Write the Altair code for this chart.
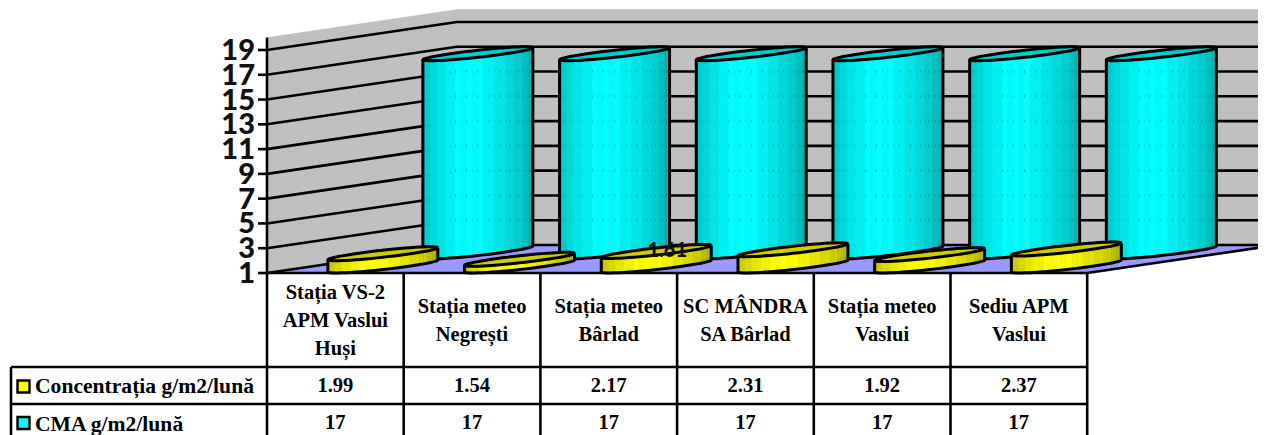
import math
import altair as alt
import pandas as pd

# ---------- data ----------
CATEGORY_LINES = [
    ["Stația VS-2", "APM Vaslui", "Huși"],
    ["Stația meteo", "Negrești"],
    ["Stația meteo", "Bârlad"],
    ["SC MÂNDRA", "SA Bârlad"],
    ["Stația meteo", "Vaslui"],
    ["Sediu APM", "Vaslui"],
]
CONCENTRATION = [1.99, 1.54, 2.17, 2.31, 1.92, 2.37]
CONCENTRATION_TEXT = ["1.99", "1.54", "2.17", "2.31", "1.92", "2.37"]
CMA = [17, 17, 17, 17, 17, 17]
SERIES_NAMES = ["Concentrația g/m2/lună", "CMA g/m2/lună"]
TICKS = [1, 3, 5, 7, 9, 11, 13, 15, 17, 19]
AXIS_TOP = 20
STRAY_LABEL = "1.61"

# ---------- oblique projection of the 3-D chart ----------
X0, Y0 = 267.0, 273.0
CAT_W = 136.7
UNIT = 12.39
DX, DY = 190.0, 28.0
RIGHT_EDGE = X0 + CAT_W * len(CONCENTRATION)
A = 27.7          # radius along the category axis
B = 0.25 * DX     # radius along the depth axis (x part)
H = 0.25 * DY     # radius along the depth axis (y part)
R = math.hypot(A, B)
T0 = math.atan2(B, A)
STRIPS = 30


def sx(cat, depth=0.0):
    return X0 + cat * CAT_W + depth * DX


def sy(v, depth=0.0):
    return Y0 - (v - 1) * UNIT - depth * DY


def shade(f):
    stops = [(0, .76), (.06, .84), (.18, .92), (.33, 1.0), (.52, 1.0), (.72, .9), (.9, .8), (1, .68)]
    for (a, va), (b, vb) in zip(stops, stops[1:]):
        if f <= b:
            return va + (vb - va) * (f - a) / (b - a)
    return stops[-1][1]


def rgb(base, k):
    return "#%02x%02x%02x" % tuple(int(round(c * k)) for c in base)


fills_bg, fills_cyan, fills_yellow = [], [], []
lines_bg, lines_cyan, lines_yellow, lines_table, seams = [], [], [], [], []


def add_fill(store, name, pts, color):
    for x, y, y2 in pts:
        store.append(dict(x=x, y=y, y2=y2, id=name, c=color))


def add_line(store, name, pts):
    for i, (x, y) in enumerate(pts):
        store.append(dict(x=x, y=y, i=i, id=name))


def cylinder(fills, lines, cat, depth, value, base, top_k, name):
    cx = sx(cat + 0.5, depth)
    by = sy(1, depth)
    ty = sy(value, depth)
    steps = [math.pi * j / STRIPS for j in range(STRIPS + 1)]
    low = lambda th: H * math.sin(T0 - th)
    up = lambda th: H * math.sin(T0 + th)
    ordered = list(reversed(steps))  # left to right on the screen
    for j in range(STRIPS):
        t0, t1 = ordered[j], ordered[j + 1]
        x0, x1 = cx + R * math.cos(t0), cx + R * math.cos(t1)
        f = ((x0 + x1) / 2 - (cx - R)) / (2 * R)
        k = shade(f) * (1 if j % 2 else 0.975)
        add_fill(fills, f"{name}s{j:02d}",
                 [(x0, ty - low(t0), by - low(t0)), (x1, ty - low(t1), by - low(t1))], rgb(base, k))
    add_fill(fills, f"{name}top",
             [(cx + R * math.cos(t), ty - up(t), ty - low(t)) for t in steps], rgb(base, top_k))
    ring = [(cx + R * math.cos(t), ty - up(t)) for t in steps] + \
           [(cx + R * math.cos(t), ty - low(t)) for t in reversed(steps)]
    add_line(lines, f"{name}ring", ring)
    add_line(lines, f"{name}side",
             [(cx - R, ty - low(math.pi)), (cx - R, by - low(math.pi))] +
             [(cx + R * math.cos(t), by - low(t)) for t in reversed(steps)] +
             [(cx + R, ty - low(0))])
    return cx


# walls and floor
far_x = sx(len(CONCENTRATION), 1)
add_fill(fills_bg, "wall_left", [(sx(0), sy(AXIS_TOP), sy(1)), (sx(0, 1), sy(AXIS_TOP, 1), sy(1, 1))], "#c0c0c0")
add_fill(fills_bg, "wall_back", [(sx(0, 1), sy(AXIS_TOP, 1), sy(1, 1)), (far_x, sy(AXIS_TOP, 1), sy(1, 1))], "#c0c0c0")
add_fill(fills_bg, "floor", [(sx(0), sy(1), sy(1)), (sx(0, 1), sy(1, 1), sy(1)),
                             (RIGHT_EDGE, sy(1, 1), sy(1)), (far_x, sy(1, 1), sy(1, 1))], "#9999ff")
for t in TICKS:
    add_line(lines_bg, f"g{t}", [(sx(0), sy(t)), (sx(0, 1), sy(t, 1)), (far_x, sy(t, 1))])
add_line(lines_bg, "floor_edge", [(RIGHT_EDGE, sy(1)), (far_x, sy(1, 1))])
add_line(lines_bg, "axis", [(sx(0), sy(AXIS_TOP)), (sx(0), sy(1))])
for t in TICKS:
    add_line(lines_bg, f"t{t}", [(sx(0) - 9, sy(t)), (sx(0), sy(t))])

for n, v in enumerate(CMA):
    cx = cylinder(fills_cyan, lines_cyan, n, 0.75, v, (0, 255, 255), 0.8, f"c{n}")
    # faint dots where the hidden gridlines meet the facet seams
    for t in TICKS[1:8]:
        for j in range(11, STRIPS, 2):
            sxp = cx + R * math.cos(math.pi * (STRIPS - j) / STRIPS)
            add_line(seams, f"d{n}_{t}_{j}", [(sxp, sy(t, 1) - 1.5), (sxp, sy(t, 1) + 1.5)])
for n, v in enumerate(CONCENTRATION):
    cylinder(fills_yellow, lines_yellow, n, 0.25, v, (255, 255, 0), 0.8, f"y{n}")

# data table
ROW_Y = [367.0, 404.0]
BOTTOM = 440.0
TABLE_LEFT = 11.0
add_line(lines_table, "top", [(sx(0), sy(1)), (RIGHT_EDGE, sy(1))])
for k, y in enumerate(ROW_Y):
    add_line(lines_table, f"r{k}", [(TABLE_LEFT, y), (RIGHT_EDGE, y)])
add_line(lines_table, "left", [(TABLE_LEFT, ROW_Y[0]), (TABLE_LEFT, BOTTOM)])
for k in range(len(CONCENTRATION) + 1):
    add_line(lines_table, f"v{k}", [(sx(k), sy(1)), (sx(k), BOTTOM)])

cat_text, val_text, name_text = [], [], []
for n, parts in enumerate(CATEGORY_LINES):
    mid = (sy(1) + ROW_Y[0]) / 2 + 0.5
    for j, s in enumerate(parts):
        cat_text.append(dict(x=sx(n + 0.5), y=mid + (j - (len(parts) - 1) / 2) * 28, t=s))
    val_text.append(dict(x=sx(n + 0.5), y=385.5, t=CONCENTRATION_TEXT[n]))
    val_text.append(dict(x=sx(n + 0.5), y=422.5, t=str(CMA[n])))
name_text = [dict(x=35, y=387, t=SERIES_NAMES[0]), dict(x=35, y=425, t=SERIES_NAMES[1])]
keys = [dict(x=17.5, x2=29.5, y=380.5, y2=392.5, c="#ffff00"), dict(x=17.5, x2=29.5, y=417, y2=429, c="#00ffff")]
tick_text = [dict(x=sx(0) - 12, y=sy(t) + 1, t=str(t)) for t in TICKS]
stray = [dict(x=sx(2.5, 0.25) + 11, y=sy(CONCENTRATION[2], 0.25) - 0.5, t=STRAY_LABEL)]

# ---------- chart ----------
XS = alt.X("x:Q", axis=None, scale=alt.Scale(domain=[8, 1258], nice=False, zero=False))
YS = alt.Y("y:Q", axis=None, scale=alt.Scale(domain=[435, 8], nice=False, zero=False))


def area_layer(rows):
    return alt.Chart(pd.DataFrame(rows)).mark_area(clip=True, strokeWidth=0.5, interpolate="linear").encode(
        x=XS, y=YS, y2="y2:Q", detail="id:N",
        color=alt.Color("c:N", scale=None), stroke=alt.Stroke("c:N", scale=None))


def line_layer(rows, width=2.6, color="black", opacity=1.0):
    return alt.Chart(pd.DataFrame(rows)).mark_line(
        clip=True, color=color, opacity=opacity, strokeWidth=width, strokeJoin="round"
    ).encode(x=XS, y=YS, detail="id:N", order="i:Q")


def text_layer(rows, font, size, align="center", color="black", weight=700):
    return alt.Chart(pd.DataFrame(rows)).mark_text(
        font=font, fontWeight=weight, fontSize=size, align=align, baseline="middle", color=color, clip=True
    ).encode(x=XS, y=YS, text="t:N")


key_layer = alt.Chart(pd.DataFrame(keys)).mark_rect(stroke="black", strokeWidth=2.4).encode(
    x=XS, x2="x2:Q", y=YS, y2="y2:Q", color=alt.Color("c:N", scale=None))

serif = "Liberation Serif"
chart = alt.layer(
    area_layer(fills_bg),
    line_layer(lines_bg),
    area_layer(fills_cyan),
    line_layer(seams, 1, "#008f8f", 0.45),
    line_layer(lines_cyan, 3),
    area_layer(fills_yellow),
    line_layer(lines_yellow, 3),
    text_layer(stray, "Lato", 20, color="#111111", weight=900),
    line_layer(lines_table),
    key_layer,
    text_layer(tick_text, "Lato", 29, align="right", color="#111111", weight=900),
    text_layer(cat_text, serif, 20.5),
    text_layer(val_text, serif, 20.5),
    text_layer(name_text, serif, 21.6, align="left"),
).properties(
    width=1250, height=427, padding=0,
    autosize=alt.AutoSizeParams(type="none"),
    background="white",
).configure_view(stroke=None)

chart.save("out.html", embed_options={"renderer": "svg", "actions": False})
